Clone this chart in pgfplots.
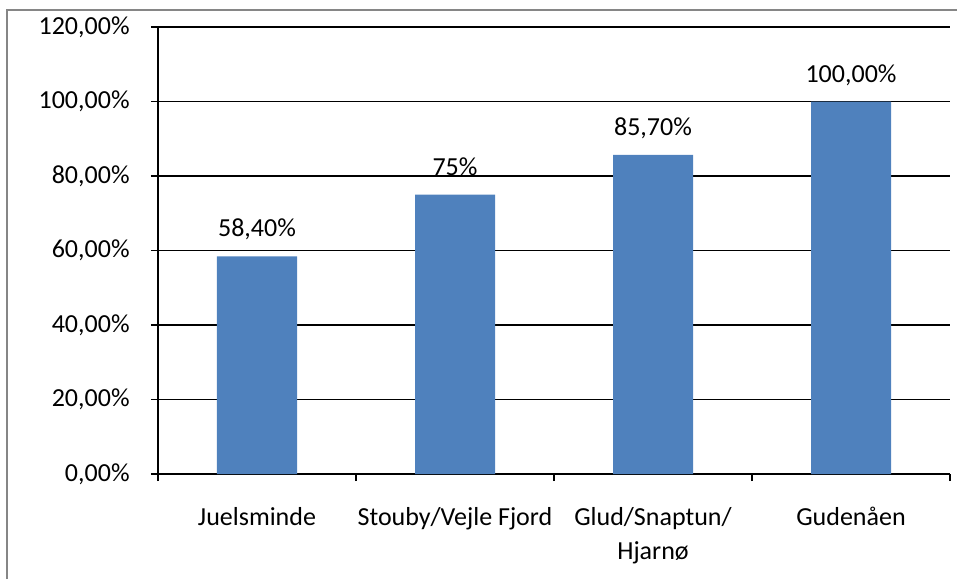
\documentclass[border=0pt]{standalone}
\usepackage{pgfplots}
\pgfplotsset{compat=1.18}
\usepackage{pgfplotstable}
\usepackage{fontspec}
\setmainfont{Carlito}
\definecolor{barblue}{HTML}{4F81BD}
\definecolor{framegray}{HTML}{868686}
\pgfplotstableread{
x y lab
0 58.4 {58,40}
1 75 {75}
2 85.7 {85,70}
3 100 {100,00}
}\datatab
\begin{document}
\fontsize{13}{17}\selectfont
\begin{tikzpicture}
\path[use as bounding box] (-79pt,-52.5pt) rectangle (399.5pt,237pt);
\draw[framegray, line width=0.9pt] (-75.5pt,-52.5pt) -- (-75.5pt,232pt) -- (399.5pt,232pt);
\begin{axis}[
  at={(0pt,0pt)}, anchor=south west,
  scale only axis,
  width=396pt, height=223.5pt,
  xmin=-0.5, xmax=3.5,
  ymin=0, ymax=120,
  axis lines*=left,
  axis line style={black, line width=0.7pt},
  ytick={0,20,40,60,80,100,120},
  yticklabels={{0,00\%},{20,00\%},{40,00\%},{60,00\%},{80,00\%},{100,00\%},{120,00\%}},
  ymajorgrids,
  grid style={black, line width=0.7pt},
  xtick={0,1,2,3},
  xticklabels={Juelsminde,Stouby/Vejle Fjord,{Glud/Snaptun/\\Hjarnø},Gudenåen},
  minor xtick={-0.5,0.5,1.5,2.5,3.5},
  tick style={black, line width=0.7pt},
  major tick length=3.5pt,
  minor tick length=3.5pt,
  major x tick style={draw=none},
  tick align=outside,
  ytick pos=left, xtick pos=bottom,
  xminorgrids=false,
  yticklabel style={anchor=east, inner sep=0pt, xshift=-10.5pt},
  xticklabel style={anchor=north, inner sep=0pt, yshift=-13pt, align=center},
  every tick label/.append style={font=\fontsize{13}{17}\selectfont},
  clip=false,
]
\addplot[ybar, bar width=40pt, fill=barblue, draw=none,
  point meta=explicit symbolic,
  nodes near coords={\pgfplotspointmeta\%},
  every node near coord/.append style={anchor=base, inner sep=0pt, yshift=9.75pt, font=\fontsize{13}{17}\selectfont, black},
] table[x=x, y=y, meta=lab] {\datatab};
\end{axis}
\end{tikzpicture}
\end{document}
